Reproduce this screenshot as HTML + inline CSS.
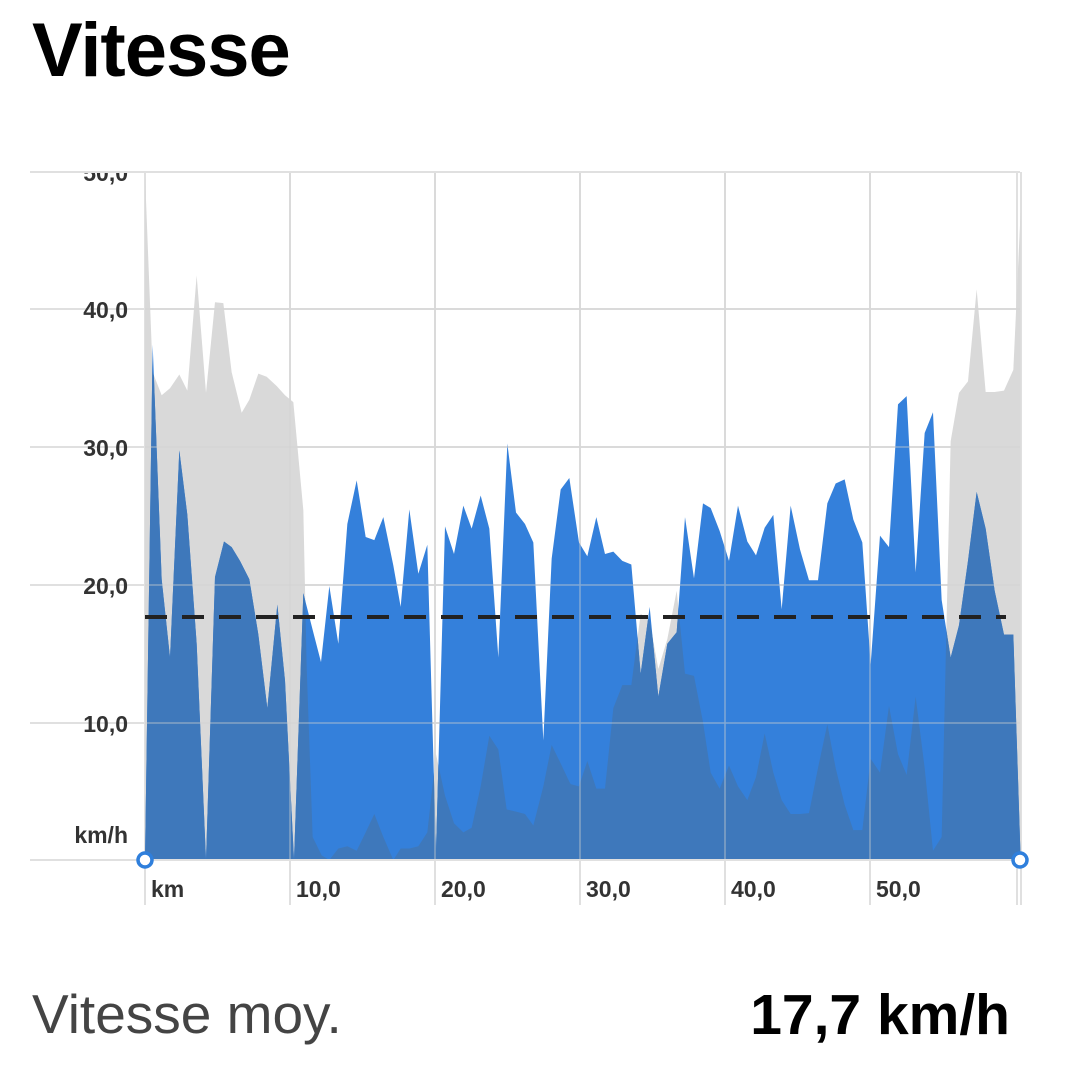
<!DOCTYPE html>
<html><head><meta charset="utf-8"><style>
html,body{margin:0;padding:0;background:#fff;}
body{width:1066px;height:1065px;overflow:hidden;position:relative;font-family:"Liberation Sans",sans-serif;}
.t{position:absolute;white-space:nowrap;}
</style></head><body>
<div class="t" style="left:32px;top:7px;font-size:76px;font-weight:bold;color:#000;letter-spacing:-1px;">Vitesse</div>
<svg width="1066" height="1065" style="position:absolute;left:0;top:0;">
<defs>
<polygon id="bp" points="45,1520 68,400 95,910 120,1080 148,630 172,770 200,1050 228,1520 255,905 282,828 305,840 330,870 358,910 385,1030 412,1190 442,965 465,1130 492,1520 520,940 548,1020 573,1090 598,925 625,1050 652,790 680,695 707,818 733,825 760,775 790,880 812,970 838,758 865,898 892,835 918,1500 945,795 972,855 1000,750 1025,800 1052,728 1078,800 1105,1080 1132,615 1158,765 1185,790 1210,830 1240,1260 1265,865 1292,715 1318,690 1347,830 1372,860 1399,775 1425,855 1450,850 1477,870 1504,878 1532,1115 1559,970 1585,1165 1612,1050 1640,1025 1665,775 1692,908 1719,745 1742,755 1769,805 1797,870 1824,750 1852,828 1878,858 1904,798 1930,770 1955,975 1982,750 2010,845 2037,912 2064,912 2092,745 2117,702 2144,693 2170,780 2197,830 2222,1095 2250,815 2277,840 2304,530 2330,512 2357,895 2384,592 2409,547 2435,955 2462,1080 2487,1010 2514,870 2540,720 2567,800 2594,935 2622,1030 2650,1030 2672,1520"/>
<polygon id="gp" points="45,1520 45,30 68,460 95,510 120,495 148,465 172,500 200,250 228,505 255,308 280,310 305,460 335,548 358,520 385,463 410,470 440,490 465,510 490,525 520,760 530,1100 548,1470 575,1510 598,1520 625,1495 652,1490 680,1500 707,1460 733,1420 760,1470 790,1520 812,1495 838,1495 865,1490 892,1460 918,1290 945,1380 972,1440 1000,1460 1025,1450 1052,1360 1078,1250 1105,1280 1130,1410 1158,1415 1185,1420 1210,1445 1240,1360 1265,1270 1292,1310 1318,1350 1322,1355 1347,1360 1372,1305 1399,1365 1425,1365 1450,1190 1477,1140 1504,1140 1532,985 1559,1000 1585,1105 1612,1040 1640,935 1665,1115 1692,1120 1719,1220 1742,1330 1769,1365 1797,1315 1824,1360 1852,1390 1878,1340 1904,1245 1930,1330 1955,1390 1982,1420 2010,1420 2037,1418 2064,1320 2092,1225 2117,1320 2144,1400 2170,1455 2197,1455 2222,1300 2250,1330 2277,1185 2304,1290 2330,1335 2357,1165 2384,1320 2409,1500 2435,1470 2462,610 2487,505 2514,480 2540,280 2567,503 2594,503 2622,500 2650,455 2672,110 2672,1520"/>
<clipPath id="bc" clipPathUnits="userSpaceOnUse"><use href="#bp"/></clipPath>
</defs>
<g stroke="#e0e0e0" stroke-width="2">
<line x1="30" y1="172" x2="1020" y2="172"/><line x1="30" y1="309" x2="1020" y2="309"/><line x1="30" y1="447" x2="1020" y2="447"/><line x1="30" y1="585" x2="1020" y2="585"/><line x1="30" y1="723" x2="1020" y2="723"/>
<line x1="145" y1="172" x2="145" y2="905"/><line x1="290" y1="172" x2="290" y2="905"/><line x1="435" y1="172" x2="435" y2="905"/><line x1="580" y1="172" x2="580" y2="905"/><line x1="725" y1="172" x2="725" y2="905"/><line x1="870" y1="172" x2="870" y2="905"/><line x1="1017" y1="172" x2="1017" y2="905"/><line x1="1021" y1="172" x2="1021" y2="905"/>
</g>
<g transform="matrix(0.33333,0,0,0.4602,130,160.5)">
<use href="#gp" fill="#d9d9d9"/>
<use href="#bp" fill="#3480db"/>
<g clip-path="url(#bc)"><use href="#gp" fill="#3e78bb"/></g>
</g>
<g stroke="#d0d0d0" stroke-width="1.5" opacity="0.5">
<line x1="145" y1="309" x2="1020" y2="309"/><line x1="145" y1="447" x2="1020" y2="447"/><line x1="145" y1="585" x2="1020" y2="585"/><line x1="145" y1="723" x2="1020" y2="723"/>
<line x1="290" y1="172" x2="290" y2="860"/><line x1="435" y1="172" x2="435" y2="860"/><line x1="580" y1="172" x2="580" y2="860"/><line x1="725" y1="172" x2="725" y2="860"/><line x1="870" y1="172" x2="870" y2="860"/>
</g>
<line x1="30" y1="860" x2="1020" y2="860" stroke="#e0e0e0" stroke-width="2"/>
<line x1="145" y1="617" x2="1006" y2="617" stroke="#222" stroke-width="4" stroke-dasharray="22,15"/>
<circle cx="145" cy="860" r="7" fill="#fff" stroke="#2f7fdc" stroke-width="3.5"/>
<circle cx="1020" cy="860" r="7" fill="#fff" stroke="#2f7fdc" stroke-width="3.5"/>
<g font-family="Liberation Sans, sans-serif" font-size="23" font-weight="bold" fill="#333" text-anchor="end">
<text x="128" y="181">50,0</text><text x="128" y="318">40,0</text><text x="128" y="456">30,0</text><text x="128" y="594">20,0</text><text x="128" y="732">10,0</text><text x="128" y="843">km/h</text>
</g>
<rect x="0" y="150" width="1066" height="21" fill="#fff"/>
<line x1="30" y1="172" x2="1020" y2="172" stroke="#e0e0e0" stroke-width="2"/>
<g font-family="Liberation Sans, sans-serif" font-size="23" font-weight="bold" fill="#333">
<text x="151" y="897">km</text><text x="296" y="897">10,0</text><text x="441" y="897">20,0</text><text x="586" y="897">30,0</text><text x="731" y="897">40,0</text><text x="876" y="897">50,0</text>
</g>
</svg>
<div class="t" style="left:32px;top:982px;font-size:55px;color:#444;">Vitesse moy.</div>
<div class="t" style="right:56px;top:982px;font-size:57px;font-weight:bold;color:#000;">17,7 km/h</div>
</body></html>
